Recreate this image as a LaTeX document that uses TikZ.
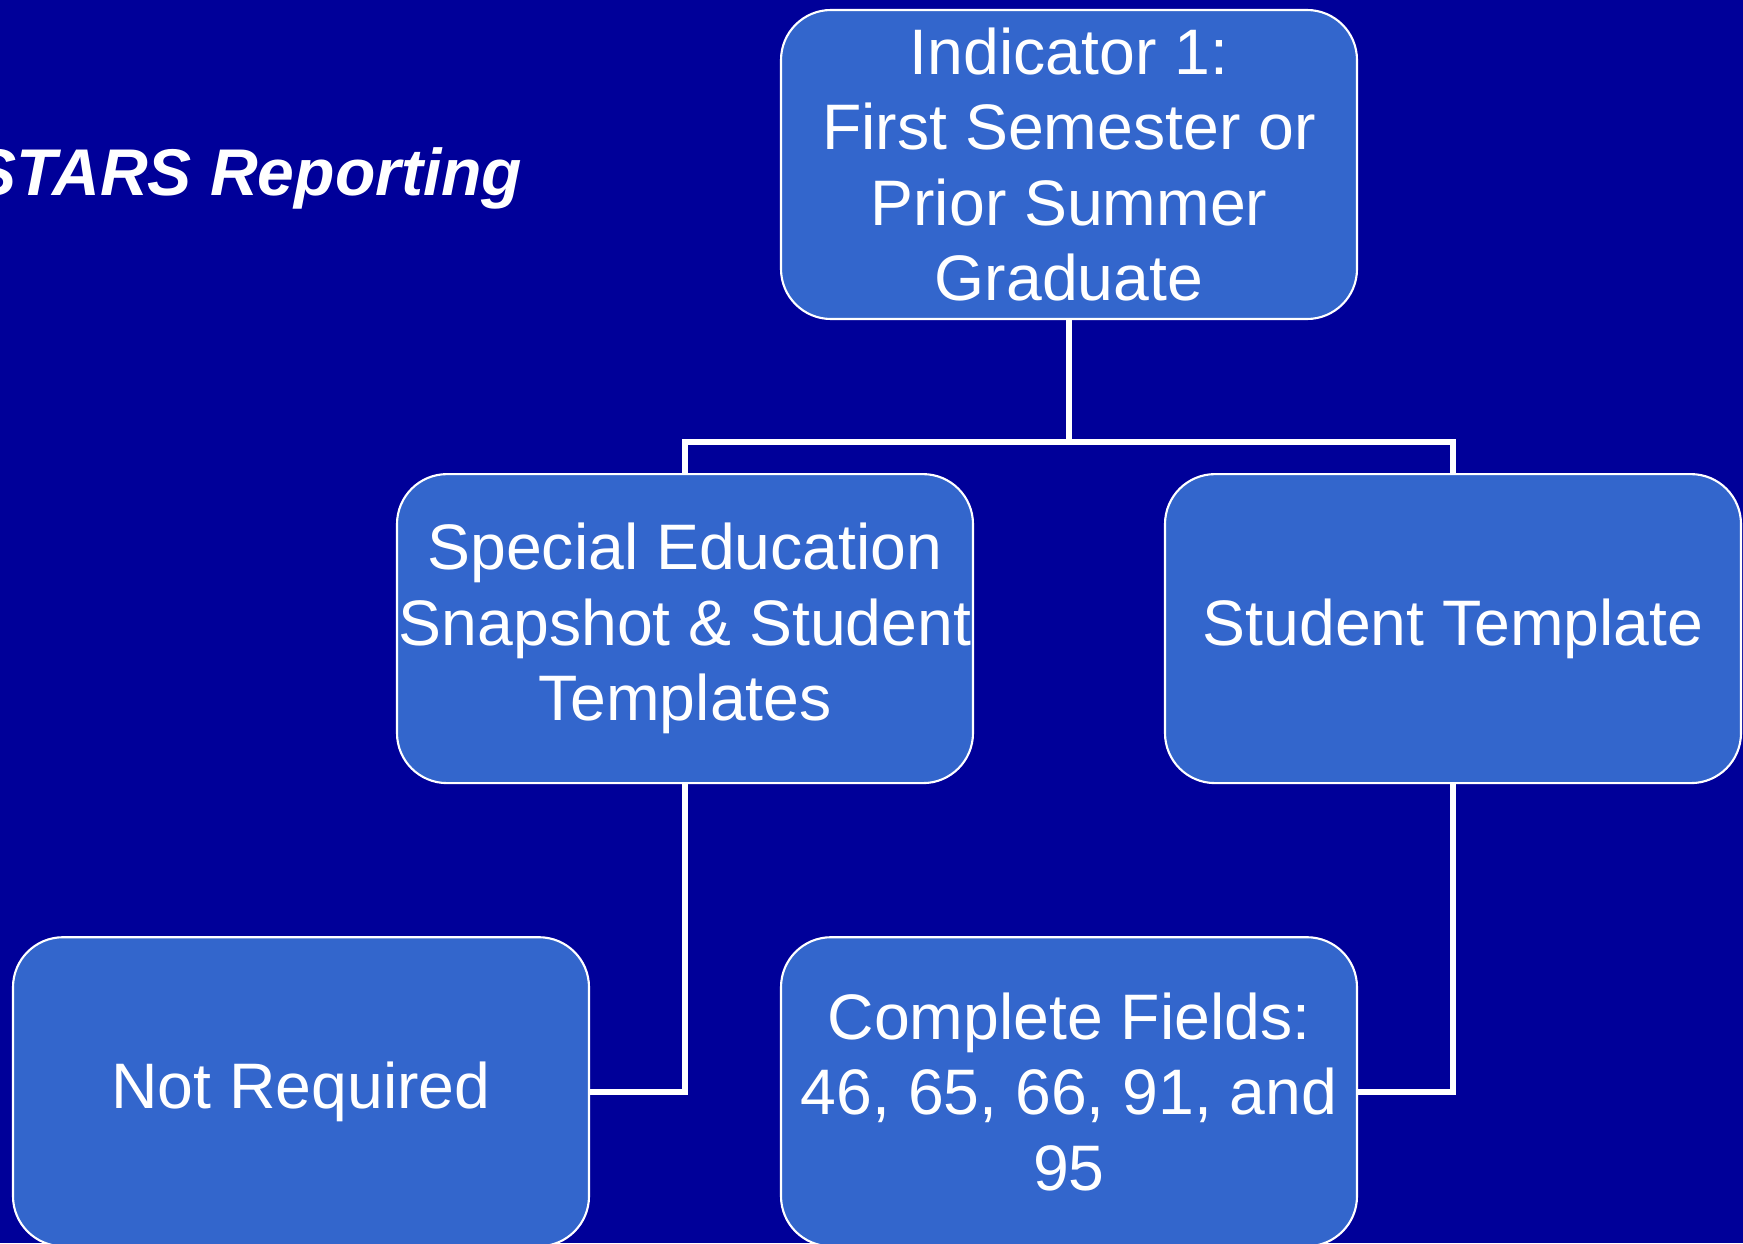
\documentclass[tikz,border=0pt]{standalone}
\usepackage{fontspec}
\setmainfont{Liberation Sans}
\usepackage{tikz}
\usetikzlibrary{positioning}

\definecolor{slideblue}{RGB}{0,0,153}
\definecolor{boxblue}{RGB}{51,102,204}

\tikzset{
  tplbox/.style={draw=white, line width=0.6pt, fill=boxblue, rectangle, rounded corners=0.5cm,
    minimum width=5.76cm, minimum height=3.09cm, inner sep=0pt,
    align=center, text=white, font=\fontsize{18.3}{21.5}\selectfont},
  link/.style={draw=white, line width=1.7pt}
}

\begin{document}
\begin{tikzpicture}

  % Slide background
  \fill [slideblue] (0,0) rectangle (17.43,12.43);
  \useasboundingbox (0,0) rectangle (17.43,12.43);

  % Title
  \node [anchor=base east, inner sep=0pt, text=white, font=\fontsize{18.8}{22}\selectfont\bfseries\itshape] (title) at (5.23,10.48) {STARS Reporting};

  % --- Top box ---
  \node [tplbox] (ind) at (10.69,10.785) {Indicator 1:\\First Semester or\\Prior Summer\\Graduate};

  % --- Second row ---
  \node [tplbox, below=1.53cm of ind, xshift=-3.84cm] (sped) {Special Education\\Snapshot \& Student\\Templates};
  \node [tplbox, below=1.53cm of ind, xshift=3.84cm] (stud) {Student Template};

  % --- Third row ---
  \node [tplbox, below=1.52cm of sped, xshift=-3.84cm] (notreq) {Not Required};
  \node [tplbox, below=1.52cm of stud, xshift=-3.84cm] (fields) {Complete Fields:\\46, 65, 66, 91, and\\95};

  % --- Connectors ---
  \coordinate (bus) at ([yshift=-1.22cm]ind.south);
  \draw [link] (ind.south) -- (bus);
  \draw [link] (sped.north) |- (bus) -| (stud.north);
  \draw [link] (sped.south) |- (notreq.east);
  \draw [link] (stud.south) |- (fields.east);

\end{tikzpicture}
\end{document}
